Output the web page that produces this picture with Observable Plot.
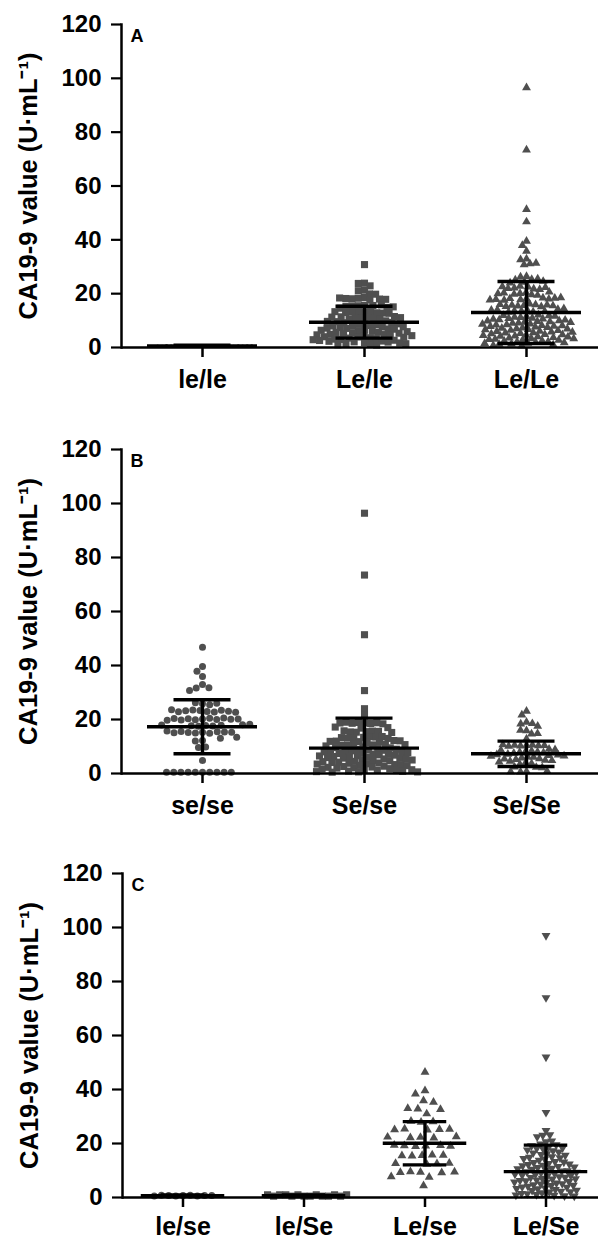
<!DOCTYPE html>
<html>
<head>
<meta charset="utf-8">
<script src="https://cdn.jsdelivr.net/npm/d3@7"></script>
<script src="https://cdn.jsdelivr.net/npm/@observablehq/plot@0.6"></script>
<style>
html, body { margin: 0; padding: 0; background: #fff; overflow: hidden; }
#chart { width: 598px; }
#chart svg { display: block; }
</style>
</head>
<body>
<div id="chart"></div>
<script>
// ---------- DATA ----------
const Y_TICKS = [0, 20, 40, 60, 80, 100, 120];
const Y_LABEL = "CA19-9 value (U·mL⁻¹)";

// Panel A
const A_categories = ["le/le", "Le/le", "Le/Le"];
const A_le_le = [0.5,0.6,0.4,0.7,0.5,0.6,0.5,0.4,0.6,0.7,0.5,0.5,0.6,0.4,0.5,0.6,0.7,0.5,0.4,0.6,0.5,0.6];
const A_Le_le = [30.8,23.9,23.8,22.9,21.3,21.1,19.9,19.8,18.6,18.3,18.1,18.0,18.2,17.9,18.4,17.6,
  15.7,15.5,15.6,15.4,15.8,15.3,14.9,14.6,15.1,13.2,13.0,13.4,12.9,13.1,13.3,12.8,13.0,12.7,
  11.4,11.2,11.0,11.5,11.3,10.9,11.1,10.8,10.6,10.4,
  9.9,9.6,9.2,9.7,9.3,8.9,8.6,8.8,8.2,8.5,7.9,8.0,7.6,7.4,7.7,7.1,6.9,7.2,6.5,6.8,6.2,6.4,6.0,
  5.7,5.9,5.4,5.6,5.1,5.3,4.8,4.9,4.5,4.7,4.2,4.4,3.9,4.0,3.6,3.8,3.3,3.5,3.0,3.1,2.7,2.9,2.4,
  2.6,2.1,2.3,1.8,2.0,1.5,1.7,1.2,1.4,0.9,1.0];
const A_Le_Le = [96.5,73.4,51.3,46.7,39.5,37.9,35.8,32.9,32.6,31.1,30.8,31.3,
  26.4,26.2,25.3,25.5,25.1,24.3,24.6,24.0,
  22.5,22.8,21.8,22.1,21.6,22.3,21.9,22.6,
  20.4,20.1,20.6,19.8,20.3,19.6,20.0,19.4,
  18.1,18.4,17.8,18.2,18.0,17.6,18.3,17.9,18.5,17.7,
  16.2,15.6,15.9,15.4,15.7,15.2,15.8,16.0,15.5,15.3,
  13.8,13.5,14.0,13.2,13.6,14.2,13.4,13.9,13.1,14.4,
  12.1,11.8,11.5,11.9,11.2,11.6,10.9,11.3,10.6,10.8,10.3,10.5,10.0,10.2,9.7,9.9,9.4,9.6,9.1,9.3,
  8.8,9.0,8.5,8.7,8.2,8.4,7.9,8.1,7.6,7.8,7.3,7.5,7.0,7.2,6.7,6.9,6.4,6.6,6.1,6.3,5.8,6.0,5.5,5.7,
  5.2,5.4,4.9,5.1,4.6,4.8,4.3,4.5,4.0,4.2,3.7,3.9,3.4,3.6,3.1,3.3,2.8,3.0,2.5,2.7,2.2,2.4,1.9,2.1,
  1.6,1.8,1.3,1.5,1.0,1.2,0.8,0.6];
const A_means = [0.6, 9.4, 13.0];
const A_sds = [0.3, 5.9, 11.5];

// Panel B
const B_categories = ["se/se", "Se/se", "Se/Se"];
const B_se_se = [46.8,39.6,37.9,35.9,33.0,31.7,31.8,30.7,25.8,26.2,25.5,26.0,
  23.3,23.0,23.5,22.8,23.2,23.4,22.9,23.1,23.6,22.7,
  20.2,20.5,19.9,20.3,20.0,20.6,19.8,20.4,20.1,19.7,20.2,
  17.8,18.1,17.5,17.9,18.0,17.6,17.7,18.2,
  15.3,15.0,15.5,15.2,15.6,14.9,15.4,15.1,15.3,15.7,
  13.4,13.1,12.2,12.0,9.8,9.6,4.8,
  0.5,0.5,0.5,0.5,0.5,0.5,0.5,0.5,0.5,0.5];
const B_Se_se = [96.4,73.5,51.4,30.7,24.0,21.7,
  18.7,18.9,18.5,18.8,18.6,19.0,18.4,18.7,17.0,17.2,16.8,
  15.5,15.7,15.3,15.6,15.4,15.8,15.2,13.4,13.6,13.2,13.5,13.1,13.7,13.3,13.0,
  12.0,11.8,12.2,11.6,11.9,12.1,11.5,10.6,10.8,10.4,10.9,10.5,10.2,10.7,
  9.8,9.5,9.2,9.6,9.0,8.7,8.9,8.4,8.6,8.1,8.3,7.8,8.0,7.5,7.7,7.2,7.4,6.9,7.1,6.6,6.8,6.3,6.5,
  6.0,6.2,5.7,5.9,5.4,5.6,5.1,5.3,4.8,5.0,4.5,4.7,4.2,4.4,3.9,4.1,3.6,3.8,3.3,3.5,3.0,3.2,
  2.7,2.9,2.4,2.6,2.1,2.3,1.8,2.0,1.5,1.7,1.2,1.4,0.9,1.1,0.6,0.8,0.5,0.7,0.6];
const B_Se_Se = [23.1,21.7,19.0,18.4,18.5,17.5,15.9,16.0,14.7,14.8,12.8,
  10.4,10.2,10.6,10.3,10.5,10.1,10.4,10.7,
  9.0,8.6,8.8,8.2,8.4,7.9,8.0,7.5,7.7,7.2,7.0,6.7,6.9,6.4,6.5,6.1,5.8,6.0,5.5,5.2,5.4,4.9,
  4.6,4.8,4.3,4.0,3.7,3.4,2.3,2.4,2.2,0.8,0.6,0.7,0.9];
const B_means = [17.3, 9.4, 7.3];
const B_sds = [10.0, 11.1, 4.7];

// Panel C
const C_categories = ["le/se", "le/Se", "Le/se", "Le/Se"];
const C_le_se = [0.7,0.6,0.8,0.7,0.6,0.7,0.8,0.7,0.6];
const C_le_Se = [0.5,1.0,0.5,1.0,0.5,1.0,0.5,1.0,0.5,1.0,0.5,1.0,0.5,1.0];
const C_Le_se = [46.4,39.6,38.4,35.9,35.3,32.8,32.6,33.0,31.0,27.9,28.1,28.3,
  25.2,25.4,25.0,25.3,25.1,22.3,22.5,22.1,22.4,22.2,
  19.1,19.3,18.9,19.2,19.0,19.4,15.6,15.8,15.4,15.7,15.5,
  12.5,12.7,12.3,12.6,9.4,9.6,9.2,9.5,9.3,7.5,7.7,4.4];
const C_Le_Se = [97.0,74.0,52.0,31.5,24.8,23.0,23.2,22.5,
  20.6,19.8,20.9,18.7,19.5,18.2,17.9,19.1,17.3,16.8,18.4,16.2,17.6,15.9,16.5,15.1,14.7,15.6,
  14.2,13.8,14.9,13.3,12.9,14.4,12.6,13.1,12.2,11.9,12.4,11.5,11.1,11.7,10.8,10.4,11.3,10.1,
  9.8,10.6,9.5,9.2,9.9,8.9,8.6,9.3,8.3,8.0,8.7,7.7,7.4,8.1,7.1,6.8,7.5,6.5,6.2,6.9,5.9,5.6,
  6.3,5.3,5.0,5.7,4.7,4.4,5.1,4.1,3.8,4.5,3.5,3.2,3.9,2.9,2.6,3.3,2.3,2.0,2.7,1.7,1.4,2.1,
  1.1,0.8,1.5,0.6,0.9,0.5];
const C_means = [0.7, 0.7, 20.1, 9.6];
const C_sds = [0.2, 0.2, 8.0, 9.8];

// ---------- STYLE ----------
const W = 598;
const MARKER = "#4f4f4f";
const FONT = "'Liberation Sans', Arial, Helvetica, sans-serif";
const ML = 121, MR = -9;

const tiny = {symbol: "circle", r: 1.7, pad: 1.1};
const circ = {symbol: "circle", r: 3.5, pad: 0.2};
const sq = {symbol: "square", r: 4.0, pad: -1.8};
const tri = {symbol: "triangle", r: 3.3, pad: -0.6};
const triWide = {symbol: "triangle", r: 3.3, pad: 3.5};
const triDown = {symbol: "triangle", r: 3.3, pad: -0.8, rotate: 180};

function makePanel(cfg) {
  const n = cfg.categories.length;
  const fw = (W - ML - MR) / n;
  const meanInset = (fw - cfg.meanWidth) / 2;
  const capInset = (fw - cfg.capWidth) / 2;
  const stats = cfg.categories.map((g, i) => ({
    group: g, mean: cfg.means[i], lo: cfg.means[i] - cfg.sds[i], hi: cfg.means[i] + cfg.sds[i]
  }));
  const dotMarks = cfg.categories.map((g, i) => {
    const st = cfg.styles[i];
    return Plot.dot(cfg.values[i].map(v => ({group: g, value: v})),
      Plot.dodgeX({anchor: "middle", padding: st.pad},
        {fx: "group", y: "value", r: st.r, symbol: st.symbol, rotate: st.rotate || 0,
         fill: MARKER, stroke: "none"}));
  });
  return Plot.plot({
    width: W, height: cfg.height,
    marginLeft: ML, marginRight: MR, marginTop: cfg.marginTop, marginBottom: cfg.marginBottom,
    style: {fontFamily: FONT, color: "black", background: "white", overflow: "hidden"},
    fx: {domain: cfg.categories, padding: 0, label: null},
    y: {domain: [0, 120], label: null},
    marks: [
      ...dotMarks,
      Plot.ruleY(stats, {fx: "group", y: "mean", insetLeft: meanInset, insetRight: meanInset,
        stroke: "black", strokeWidth: 3.4, clip: true}),
      Plot.ruleY(stats, {fx: "group", y: "hi", insetLeft: capInset, insetRight: capInset,
        stroke: "black", strokeWidth: 3.4, clip: true}),
      Plot.ruleY(stats, {fx: "group", y: "lo", insetLeft: capInset, insetRight: capInset,
        stroke: "black", strokeWidth: 3.4, clip: true}),
      Plot.ruleX(stats, {fx: "group", x: null, y1: "lo", y2: "hi",
        stroke: "black", strokeWidth: 3.4, clip: true}),
      Plot.ruleY([0], {stroke: "black", strokeWidth: 2.5}),
      Plot.frame({anchor: "left", facetAnchor: "left", stroke: "black", strokeWidth: 2.5}),
      Plot.axisY({ticks: Y_TICKS, tickSize: 10, tickPadding: 10, strokeWidth: 2.2,
        fontSize: 24, fontWeight: "bold", label: null}),
      Plot.text([Y_LABEL], {fx: [cfg.categories[0]], frameAnchor: "left", rotate: -90,
        dx: -103, lineAnchor: "top", textAnchor: "middle", fontSize: 25.5, fontWeight: "bold",
        fill: "black"}),
      Plot.axisFx({anchor: "bottom", tickSize: 10, tickPadding: cfg.labelPad, strokeWidth: 2.5,
        fontSize: 25, fontWeight: "bold", label: null}),
      Plot.text([cfg.letter], {fx: [cfg.categories[0]], frameAnchor: "top-left", dx: 9, dy: 5,
        lineAnchor: "top", fontSize: 18, fontWeight: "bold", fill: "black"})
    ]
  });
}

const chart = document.getElementById("chart");
chart.append(makePanel({
  letter: "A", categories: A_categories, values: [A_le_le, A_Le_le, A_Le_Le],
  styles: [tiny, sq, tri], means: A_means, sds: A_sds,
  height: 400, marginTop: 24, marginBottom: 53, meanWidth: 110, capWidth: 57, labelPad: 13
}));
chart.append(makePanel({
  letter: "B", categories: B_categories, values: [B_se_se, B_Se_se, B_Se_Se],
  styles: [circ, sq, tri], means: B_means, sds: B_sds,
  height: 418, marginTop: 49, marginBottom: 45, meanWidth: 110, capWidth: 57, labelPad: 13
}));
chart.append(makePanel({
  letter: "C", categories: C_categories, values: [C_le_se, C_le_Se, C_Le_se, C_Le_Se],
  styles: [circ, sq, triWide, triDown], means: C_means, sds: C_sds,
  height: 421, marginTop: 55, marginBottom: 42, meanWidth: 84, capWidth: 44, labelPad: 10
}));
</script>
</body>
</html>
